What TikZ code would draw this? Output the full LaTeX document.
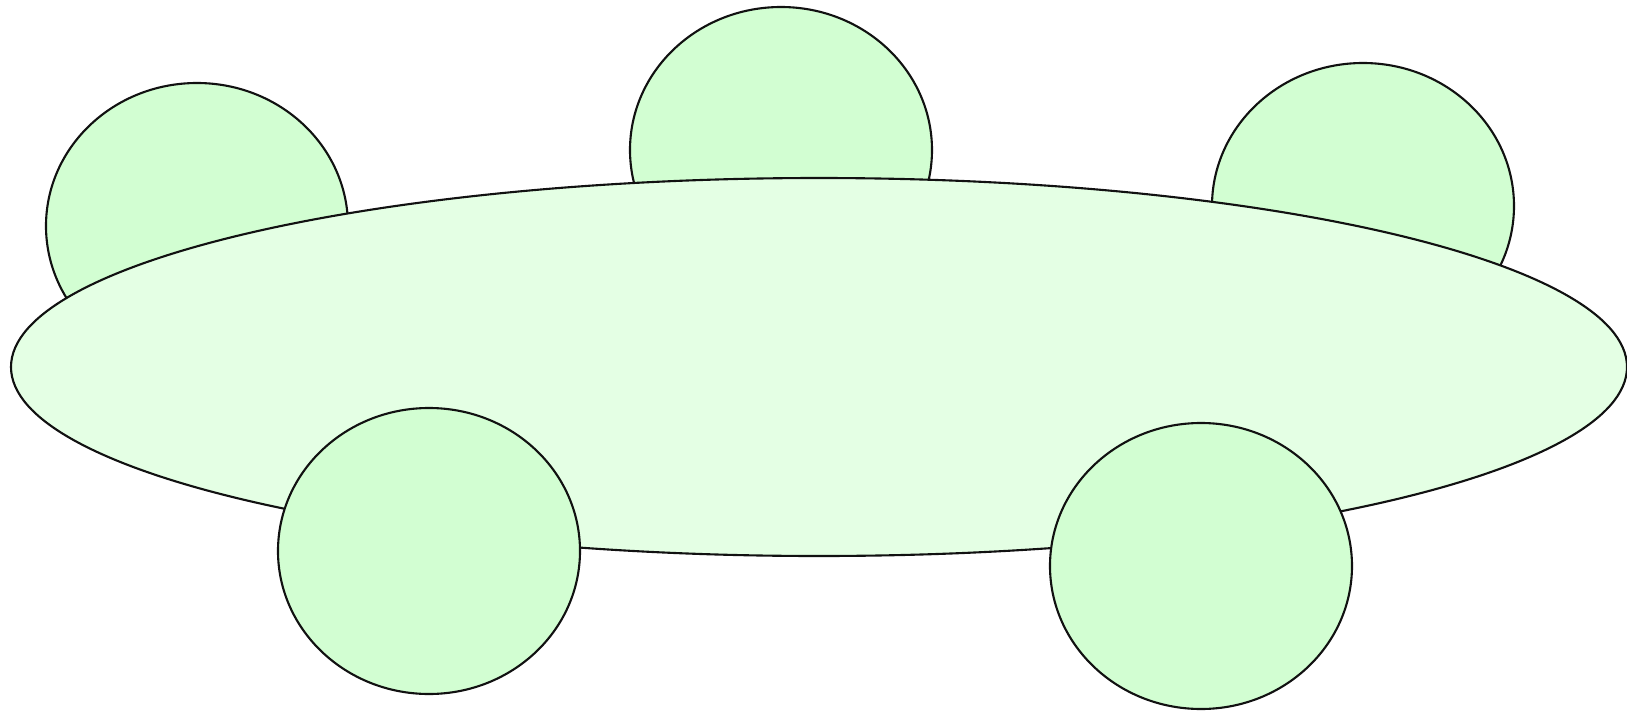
\documentclass[tikz,border=0pt]{standalone}
\definecolor{seatgreen}{HTML}{D2FED2}
\definecolor{tablegreen}{HTML}{E4FFE4}
\definecolor{rimblack}{HTML}{111111}
\usepackage{tikz}
\usetikzlibrary{shapes.geometric,positioning}

\begin{document}
\begin{tikzpicture}[
  seat/.style={ellipse,draw=rimblack,line width=0.6pt,fill=seatgreen,
    minimum width=3.02cm,minimum height=2.86cm,inner sep=0pt},
  board/.style={ellipse,draw=rimblack,line width=0.6pt,fill=tablegreen,
    minimum width=16.16cm,minimum height=3.78cm,inner sep=0pt}]
\useasboundingbox (0,0) rectangle (16.27,7.12);
% back row, behind the table
\node[seat] (seatL) at (1.97,4.86) {};
\node[seat] (seatM) at (7.81,5.62) {};
\node[seat] (seatR) at (13.63,5.06) {};
\node[board] (table) at (8.19,3.45) {};
% front row
\node[seat] (frontL) at (4.29,1.61) {};
\node[seat] (frontR) at (12.01,1.46) {};
\end{tikzpicture}
\end{document}
